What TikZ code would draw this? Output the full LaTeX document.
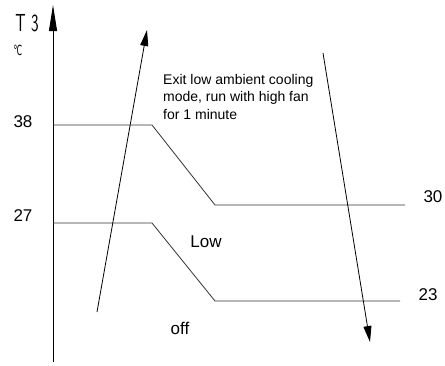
\documentclass[tikz,border=0pt]{standalone}
\usepackage{fontspec}
\setmainfont{Liberation Sans}
\setsansfont{Latin Modern Sans}
\newfontfamily\symfont{DejaVu Sans}
\usetikzlibrary{arrows.meta}
\begin{document}
\begin{tikzpicture}[x=1pt,y=-1pt,
  line/.style={line width=0.8pt, draw=black!80},
  arr/.style={line width=0.8pt, draw=black, -{Triangle[length=16pt,width=8pt]}},
  lbl/.style={inner sep=0pt, font=\fontsize{17}{19}\selectfont},
  note/.style={inner sep=0pt, align=left, font=\fontsize{14}{17.5}\selectfont}]
\useasboundingbox (0,0) rectangle (445,365);
% axis
\coordinate (ab) at (53,362);
\coordinate (at) at (53,5);
\draw[line, draw=black, -{Triangle[length=26pt,width=8pt]}] (ab) -- (at);
% upper threshold line
\coordinate (u1) at (53,125);
\coordinate (u2) at (152,125);
\coordinate (u3) at (215,205);
\coordinate (u4) at (405,205);
\draw[line] (u1) -- (u2) -- (u3) -- (u4);
% lower threshold line
\coordinate (l1) at (53,223);
\coordinate (l2) at (152,223);
\coordinate (l3) at (215,301);
\coordinate (l4) at (400,301);
\draw[line] (l1) -- (l2) -- (l3) -- (l4);
% rising arrow
\coordinate (ra) at (97,312);
\coordinate (rb) at (147,30);
\draw[arr] (ra) -- (rb);
% falling arrow
\coordinate (fa) at (323,53);
\coordinate (fb) at (370,342);
\draw[arr] (fa) -- (fb);
% labels
\node[inner sep=0pt] (t3) at (27,23) {\scalebox{0.95}[1.45]{\fontsize{17}{17}\sffamily T\,\,3}};
\node[inner sep=0pt] (deg) at (18,50) {\scalebox{0.55}[1]{\symfont\fontsize{14}{14}\selectfont ℃}};
\node[lbl] (v38) at (23,122) {38};
\node[lbl] (v27) at (23,216) {27};
\node[lbl] (v30) at (433,197) {30};
\node[lbl] (v23) at (428,295) {23};
\node[lbl] (low) at (206,242) {Low};
\node[lbl] (off) at (180,328) {off};
\node[note, anchor=north west] (exit) at (163,74) {Exit low ambient cooling\\mode, run with high fan\\for 1 minute};
\end{tikzpicture}
\end{document}
